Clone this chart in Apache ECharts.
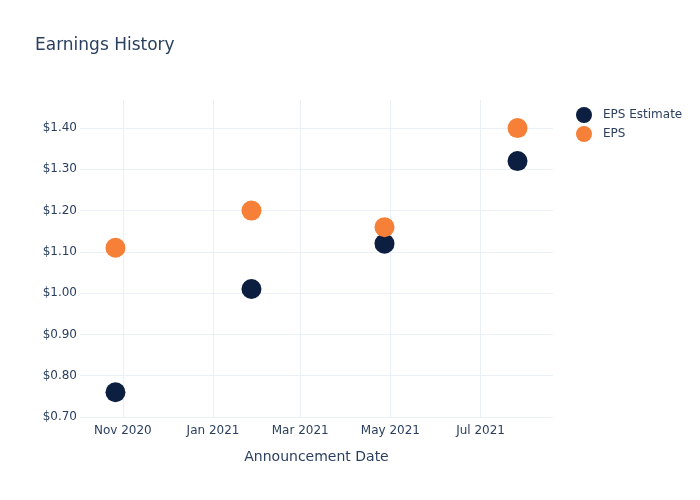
<!DOCTYPE html>
<html>
<head>
<meta charset="utf-8">
<script src="https://cdn.jsdelivr.net/npm/echarts@6/dist/echarts.min.js"></script>
<style>html,body{margin:0;padding:0;background:#fff}#c{width:700px;height:500px}</style>
</head>
<body>
<div id="c"></div>
<script>
const dates = ['2020-10-27', '2021-01-27', '2021-04-27', '2021-07-26'];
const epsEstimate = [0.76, 1.01, 1.12, 1.32];
const eps = [1.11, 1.20, 1.16, 1.40];
const xRange = ['2020-10-03', '2021-08-19'];
const monthNames = ['Jan','Feb','Mar','Apr','May','Jun','Jul','Aug','Sep','Oct','Nov','Dec'];

const txt = '#2a3f5f';
const grid = '#ebf0f8';
const chart = echarts.init(document.getElementById('c'), null, {renderer: 'canvas'});
chart.setOption({
  animation: false,
  backgroundColor: '#fff',
  textStyle: {fontFamily: 'DejaVu Sans, sans-serif'},
  title: {text: 'Earnings History', left: 35, top: 37, padding: 0,
    textStyle: {fontSize: 17, fontWeight: 'normal', color: txt, fontFamily: 'DejaVu Sans'}},
  legend: {orient: 'vertical', left: 576, top: 107, padding: 0, itemGap: 3, itemWidth: 16, itemHeight: 16,
    icon: 'circle', textStyle: {fontSize: 12, color: txt, padding: [0, 0, 0, 6]}},
  grid: {left: 80, right: 147, top: 100, bottom: 83},
  xAxis: {
    type: 'time',
    min: xRange[0], max: xRange[1],
    splitNumber: 5,
    name: 'Announcement Date', nameLocation: 'middle', nameGap: 33,
    nameTextStyle: {fontSize: 14, color: txt},
    axisLine: {show: false}, axisTick: {show: false},
    axisLabel: {color: txt, fontSize: 12, margin: 8, showMinLabel: false, showMaxLabel: false,
      formatter: function (v) { const d = new Date(v); return monthNames[d.getMonth()] + ' ' + d.getFullYear(); }},
    splitLine: {show: true, showMinLine: false, showMaxLine: false, lineStyle: {color: grid, width: 1}}
  },
  yAxis: {
    type: 'value', min: 0.7, max: 1.468, interval: 0.1,
    axisLine: {show: false}, axisTick: {show: false},
    axisLabel: {color: txt, fontSize: 12, margin: 3, showMaxLabel: false,
      formatter: function (v) { return '$' + v.toFixed(2); }},
    splitLine: {show: true, showMaxLine: false, lineStyle: {color: grid, width: 1}}
  },
  series: [
    {name: 'EPS Estimate', type: 'scatter', symbolSize: 20,
      itemStyle: {color: '#0c1f40', opacity: 1},
      data: dates.map((d, i) => [d, epsEstimate[i]])},
    {name: 'EPS', type: 'scatter', symbolSize: 20,
      itemStyle: {color: '#f68038', opacity: 1},
      data: dates.map((d, i) => [d, eps[i]])}
  ]
});
</script>
</body>
</html>
